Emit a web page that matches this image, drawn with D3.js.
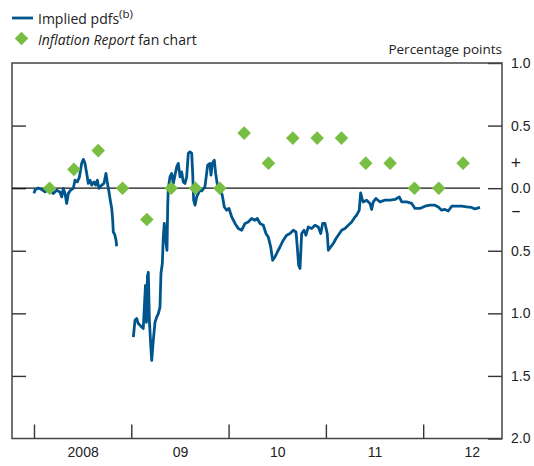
<!DOCTYPE html>
<html lang="en">
<head>
    <meta charset="UTF-8">
    <script src="https://cdn.jsdelivr.net/npm/d3@7"></script>
    <title>Implied pdfs vs Inflation Report</title>
    <style>
        body { margin: 0; background: #fff; }
        svg { display: block; font-family: "Open Sans", sans-serif; }
        .tick text { font-size: 14px; fill: #222; }
        .tick line { stroke: #333; stroke-width: 1.4px; }
    </style>
</head>
<body>
<script>
    /*------------------------- data -------------------------*/
    // implied pdfs: decimal year and value (percentage points), null = gap
    const pdfYears = [
        2008.000, 2008.010, 2008.044, 2008.079, 2008.113, 2008.155, 2008.198, 2008.233, 2008.267, 2008.285,
        2008.301, 2008.319, 2008.336, 2008.353, 2008.377, 2008.404, 2008.421, 2008.445, 2008.466, 2008.490,
        2008.507, 2008.524, 2008.542, 2008.558, 2008.576, 2008.593, 2008.617, 2008.634, 2008.651, 2008.668,
        2008.696, 2008.719, 2008.740, 2008.753, 2008.768, 2008.781, 2008.799, 2008.809, 2008.815, 2008.832,
        2008.843, 2008.850,
        null,
        2009.021, 2009.038, 2009.056, 2009.072, 2009.107, 2009.123, 2009.146, 2009.156, 2009.166, 2009.175,
        2009.186, 2009.200, 2009.210, 2009.226, 2009.244, 2009.261, 2009.278, 2009.295, 2009.305, 2009.319,
        2009.329, 2009.339, 2009.354, 2009.367, 2009.374, 2009.380, 2009.398, 2009.415, 2009.432, 2009.449,
        2009.467, 2009.483, 2009.501, 2009.518, 2009.534, 2009.552, 2009.569, 2009.586, 2009.603, 2009.621,
        2009.631, 2009.641, 2009.655, 2009.672, 2009.689, 2009.706, 2009.724, 2009.757, 2009.785, 2009.809,
        2009.819, 2009.833, 2009.853, 2009.867, 2009.888, 2009.912, 2009.935, 2009.956, 2009.980, 2010.004,
        2010.032, 2010.066, 2010.100, 2010.135, 2010.169, 2010.202, 2010.237, 2010.271, 2010.295, 2010.323,
        2010.357, 2010.384, 2010.408, 2010.433, 2010.453, 2010.477, 2010.501, 2010.528, 2010.562, 2010.597,
        2010.631, 2010.665, 2010.693, 2010.706, 2010.720, 2010.734, 2010.751, 2010.775, 2010.795, 2010.819,
        2010.854, 2010.888, 2010.922, 2010.947, 2010.967, 2010.991, 2011.014, 2011.025, 2011.049, 2011.076,
        2011.104, 2011.127, 2011.162, 2011.196, 2011.230, 2011.265, 2011.299, 2011.316, 2011.343, 2011.357,
        2011.371, 2011.384, 2011.419, 2011.453, 2011.470, 2011.487, 2011.515, 2011.556, 2011.607, 2011.659,
        2011.710, 2011.754, 2011.779, 2011.830, 2011.882, 2011.916, 2011.967, 2012.019, 2012.070, 2012.121,
        2012.155, 2012.190, 2012.224, 2012.258, 2012.293, 2012.344, 2012.396, 2012.447, 2012.498, 2012.532,
        2012.584
    ];
    const pdfValues = [
        -0.042, -0.016, 0.002, -0.010, -0.030, -0.008, -0.042, -0.016, -0.030, -0.070,
        -0.002, -0.042, -0.122, -0.042, -0.016, -0.002, 0.064, 0.050, 0.086, 0.198,
        0.230, 0.198, 0.118, 0.038, 0.064, 0.024, 0.050, 0.024, 0.064, -0.002,
        0.024, 0.038, 0.118, 0.050, -0.016, -0.082, -0.162, -0.256, -0.350, -0.376,
        -0.416, -0.464,
        null,
        -1.190, -1.056, -1.042, -1.082, -1.110, -1.122, -0.776, -1.072, -0.704, -0.672,
        -1.056, -1.256, -1.376, -1.216, -1.070, -1.030, -1.002, -0.950, -0.682, -0.602,
        -0.390, -0.282, -0.416, -0.496, -0.150, -0.002, 0.090, 0.118, 0.038, 0.104,
        0.170, 0.198, 0.090, 0.130, 0.050, 0.038, 0.090, 0.278, 0.290, 0.278,
        0.118, -0.096, -0.136, -0.070, -0.042, -0.016, -0.022, 0.010, 0.184, 0.198,
        0.104, 0.198, 0.224, 0.118, 0.010, -0.016, -0.056, -0.150, -0.176, -0.162,
        -0.230, -0.282, -0.322, -0.336, -0.282, -0.270, -0.242, -0.256, -0.242, -0.282,
        -0.296, -0.362, -0.390, -0.470, -0.576, -0.550, -0.510, -0.470, -0.416, -0.376,
        -0.362, -0.336, -0.350, -0.470, -0.616, -0.642, -0.362, -0.336, -0.376, -0.310,
        -0.322, -0.296, -0.310, -0.362, -0.282, -0.282, -0.362, -0.496, -0.470, -0.442,
        -0.402, -0.376, -0.336, -0.322, -0.296, -0.270, -0.230, -0.216, -0.176, -0.038,
        -0.082, -0.110, -0.096, -0.122, -0.170, -0.110, -0.082, -0.110, -0.096, -0.096,
        -0.090, -0.070, -0.110, -0.110, -0.122, -0.162, -0.162, -0.144, -0.136, -0.136,
        -0.150, -0.176, -0.170, -0.182, -0.144, -0.144, -0.144, -0.150, -0.154, -0.166,
        -0.154
    ];

    // Inflation Report fan chart, one per report (Feb, May, Aug, Nov)
    const fanYears = [
        2008.16, 2008.41, 2008.66, 2008.91,
        2009.16, 2009.41, 2009.66, 2009.91,
        2010.16, 2010.41, 2010.66, 2010.91,
        2011.16, 2011.41, 2011.66, 2011.91,
        2012.16, 2012.41
    ];
    const fanValues = [
        0.00, 0.15, 0.30, 0.00,
        -0.25, 0.00, 0.00, 0.00,
        0.44, 0.20, 0.40, 0.40,
        0.40, 0.20, 0.20, 0.00,
        0.00, 0.20
    ];

    const yearTicks = [2008, 2009, 2010, 2011, 2012];
    const yearLabels = ["2008", "09", "10", "11", "12"];
    const valueTicks = [1, 0.5, 0, -0.5, -1, -1.5, -2];

    /*------------------------ layout ------------------------*/
    const W = 534, H = 466;
    const frame = {left: 12, right: 502, top: 63, bottom: 438.5};
    const blue = "#00568c", green = "#78be43";

    const x = d3.scaleLinear().domain([2007.774, 2012.81]).range([frame.left, frame.right]);
    const y = d3.scaleLinear().domain([-2, 1]).range([frame.bottom, frame.top]);

    const svg = d3.select("body").append("svg")
        .attr("width", W)
        .attr("height", H);

    /*------------------------ axes --------------------------*/
    // right axis with labels, ticks pointing inwards
    svg.append("g")
        .attr("transform", `translate(${frame.right},0)`)
        .call(d3.axisRight(y).tickValues(valueTicks).tickSizeInner(-14).tickSizeOuter(0).tickPadding(9)
            .tickFormat(d => d3.format(".1f")(Math.abs(d))))
        .call(g => g.select(".domain").remove());

    // left ticks only
    svg.append("g")
        .attr("transform", `translate(${frame.left},0)`)
        .call(d3.axisLeft(y).tickValues(valueTicks.slice(1, -1)).tickSizeInner(-14).tickSizeOuter(0).tickFormat(""))
        .call(g => g.select(".domain").remove());

    // bottom ticks at year starts
    svg.append("g")
        .attr("transform", `translate(0,${frame.bottom})`)
        .call(d3.axisBottom(x).tickValues(yearTicks).tickSizeInner(-14).tickSizeOuter(0).tickFormat(""))
        .call(g => g.select(".domain").remove());

    // year labels centred in each year
    svg.append("g")
        .attr("transform", `translate(0,${frame.bottom})`)
        .call(d3.axisBottom(x).tickValues(yearTicks.map(d => d + 0.5)).tickSize(0).tickPadding(9)
            .tickFormat((d, i) => yearLabels[i]))
        .call(g => g.select(".domain").remove());

    // frame
    svg.append("rect")
        .attr("x", frame.left).attr("y", frame.top)
        .attr("width", frame.right - frame.left)
        .attr("height", frame.bottom - frame.top)
        .attr("fill", "none")
        .attr("stroke", "#444")
        .attr("stroke-width", 1.5);

    // zero line
    svg.append("line")
        .attr("x1", frame.left).attr("x2", 480)
        .attr("y1", y(0)).attr("y2", y(0))
        .attr("stroke", "#111")
        .attr("stroke-width", 1.3);

    // sign markers on the right
    svg.append("text").attr("x", 516).attr("y", y(0.2) + 6)
        .attr("text-anchor", "middle").style("font-size", "18px").attr("fill", "#222").text("+");
    svg.append("text").attr("x", 516).attr("y", y(-0.18) + 6)
        .attr("text-anchor", "middle").style("font-size", "18px").attr("fill", "#222").text("\u2013");

    svg.append("text")
        .attr("x", frame.right).attr("y", 54)
        .attr("text-anchor", "end")
        .style("font-size", "13.5px").attr("fill", "#222")
        .text("Percentage points");

    /*------------------------ marks -------------------------*/
    const pdf = pdfYears.map((t, i) => ({t: t, v: pdfValues[i]}));
    const line = d3.line()
        .defined(d => d.v !== null)
        .x(d => x(d.t))
        .y(d => y(d.v));

    svg.append("path")
        .datum(pdf)
        .attr("d", line)
        .attr("fill", "none")
        .attr("stroke", blue)
        .attr("stroke-width", 2.8)
        .attr("stroke-linejoin", "round");

    const diamond = d3.symbol().type(d3.symbolSquare).size(92);
    svg.selectAll("path.fan")
        .data(fanYears.map((t, i) => ({t: t, v: fanValues[i]})))
        .enter()
        .append("path")
        .attr("class", "fan")
        .attr("d", diamond)
        .attr("transform", d => `translate(${x(d.t)},${y(d.v)}) rotate(45)`)
        .attr("fill", green);

    /*------------------------ legend ------------------------*/
    const legend = svg.append("g").style("font-size", "14px").attr("fill", "#222");
    legend.append("line")
        .attr("x1", 12).attr("x2", 33).attr("y1", 18).attr("y2", 18)
        .attr("stroke", blue).attr("stroke-width", 2.8);
    const t1 = legend.append("text").attr("x", 38).attr("y", 24);
    t1.append("tspan").text("Implied pdfs");
    t1.append("tspan").attr("dy", -6).style("font-size", "11.5px").text("(b)");

    legend.append("path")
        .attr("d", diamond)
        .attr("transform", "translate(21.5,38.5) rotate(45)")
        .attr("fill", green);
    const t2 = legend.append("text").attr("x", 38).attr("y", 45);
    t2.append("tspan").style("font-style", "italic").text("Inflation Report");
    t2.append("tspan").text(" fan chart");
</script>
</body>
</html>
